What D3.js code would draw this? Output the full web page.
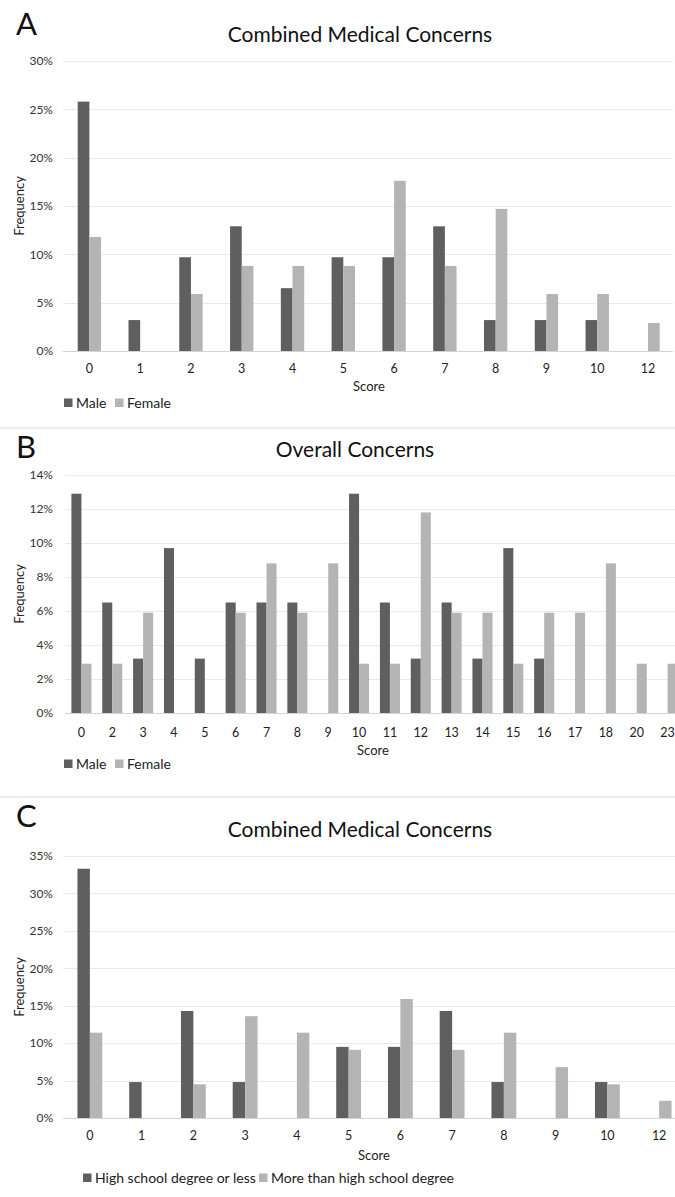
<!DOCTYPE html>
<html>
<head>
<meta charset="utf-8">
<script src="https://cdn.jsdelivr.net/npm/d3@7"></script>
<style>
  html, body { margin: 0; padding: 0; background: #fff; }
  svg { display: block; font-family: Lato, "Open Sans", sans-serif; }
</style>
</head>
<body>
<svg id="chart" width="675" height="1197"></svg>
<script>
// ---------- Data ----------
const scoresA = ["0","1","2","3","4","5","6","7","8","9","10","12"];
const maleA   = [25.8, 3.2, 9.7, 12.9, 6.5, 9.7, 9.7, 12.9, 3.2, 3.2, 3.2, 0];
const femaleA = [11.8, 0, 5.9, 8.8, 8.8, 8.8, 17.6, 8.8, 14.7, 5.9, 5.9, 2.9];
const ticksA  = [0, 5, 10, 15, 20, 25, 30];

const scoresB = ["0","2","3","4","5","6","7","8","9","10","11","12","13","14","15","16","17","18","20","23"];
const maleB   = [12.9, 6.5, 3.2, 9.7, 3.2, 6.5, 6.5, 6.5, 0, 12.9, 6.5, 3.2, 6.5, 3.2, 9.7, 3.2, 0, 0, 0, 0];
const femaleB = [2.9, 2.9, 5.9, 0, 0, 5.9, 8.8, 5.9, 8.8, 2.9, 2.9, 11.8, 5.9, 5.9, 2.9, 5.9, 5.9, 8.8, 2.9, 2.9];
const ticksB  = [0, 2, 4, 6, 8, 10, 12, 14];

const scoresC = ["0","1","2","3","4","5","6","7","8","9","10","12"];
const hsC     = [33.3, 4.8, 14.3, 4.8, 0, 9.5, 9.5, 14.3, 4.8, 0, 4.8, 0];
const moreC   = [11.4, 0, 4.5, 13.6, 11.4, 9.1, 15.9, 9.1, 11.4, 6.8, 4.5, 2.3];
const ticksC  = [0, 5, 10, 15, 20, 25, 30, 35];

const seriesNamesAB = ["Male", "Female"];
const seriesNamesC  = ["High school degree or less", "More than high school degree"];
const colors = ["#5f5f5f", "#b4b4b4"];

// ---------- Drawing ----------
const svg = d3.select("#chart");

function panel(cfg) {
  const g = svg.append("g");
  const x = d3.scaleBand().domain(cfg.cats).range(cfg.xr).paddingInner(cfg.pad).paddingOuter(cfg.pad / 2);
  const sub = d3.scaleBand().domain([0, 1]).range([0, x.bandwidth()]);
  const y = d3.scaleLinear().domain([0, cfg.ticks[cfg.ticks.length - 1]]).range(cfg.yr);

  // panel letter
  g.append("text").attr("x", 16).attr("y", cfg.letterY).attr("font-size", 31)
    .attr("font-family", "Lato, sans-serif").attr("fill", "#111").text(cfg.letter);
  // title
  g.append("text").attr("x", cfg.titleX).attr("y", cfg.titleY).attr("text-anchor", "middle")
    .attr("font-size", 21).attr("fill", "#111").text(cfg.title);

  // gridlines
  g.selectAll("line.grid").data(cfg.ticks).join("line")
    .attr("x1", cfg.gridX[0]).attr("x2", cfg.gridX[1])
    .attr("y1", d => Math.round(y(d)) + 0.5).attr("y2", d => Math.round(y(d)) + 0.5)
    .attr("stroke", d => d === 0 ? "#d4d4d4" : "#e9e9e9").attr("stroke-width", 1);

  // y axis labels via d3 axis
  const yAxis = d3.axisLeft(y).tickValues(cfg.ticks).tickFormat(d => d + "%").tickSize(0).tickPadding(0);
  const ya = g.append("g").attr("transform", `translate(53,0)`).call(yAxis);
  ya.select(".domain").remove();
  ya.selectAll("text").attr("font-size", 12).attr("fill", "#333").attr("font-family", "Lato, sans-serif");

  // bars
  const sets = [cfg.s0, cfg.s1];
  sets.forEach((vals, si) => {
    g.selectAll(null).data(vals.map((v, i) => ({cat: cfg.cats[i], v}))).join("rect")
      .filter(d => d.v > 0)
      .attr("x", d => x(d.cat) + sub(si))
      .attr("width", sub.bandwidth())
      .attr("y", d => y(d.v))
      .attr("height", d => y(0) - y(d.v))
      .attr("fill", colors[si]);
  });

  // x axis labels
  const xAxis = d3.axisBottom(x).tickSize(0).tickPadding(0);
  const xa = g.append("g").attr("transform", `translate(0,${cfg.xLabelY})`).call(xAxis);
  xa.select(".domain").remove();
  xa.selectAll("text").attr("font-size", 12.5).attr("fill", "#222").attr("dy", "0").attr("font-family", "Lato, sans-serif");

  // axis titles
  g.append("text").attr("x", cfg.scoreX).attr("y", cfg.scoreY).attr("text-anchor", "middle")
    .attr("font-size", 13).attr("fill", "#222").text("Score");
  g.append("text").attr("transform", `translate(24,${cfg.freqY}) rotate(-90)`).attr("text-anchor", "middle")
    .attr("font-size", 13).attr("fill", "#222").text("Frequency");

  // legend
  cfg.names.forEach((n, i) => {
    g.append("rect").attr("x", cfg.legX[i]).attr("y", cfg.legY - 4.5).attr("width", 8.5).attr("height", 8.5).attr("fill", colors[i]);
    g.append("text").attr("x", cfg.legX[i] + 12).attr("y", cfg.legY + 5).attr("font-size", 14)
      .attr("fill", "#222").text(n);
  });
}

panel({letter: "A", letterY: 35, title: "Combined Medical Concerns", titleX: 360, titleY: 42,
  cats: scoresA, s0: maleA, s1: femaleA, ticks: ticksA, xr: [64, 673.4], pad: 0.54, yr: [351, 61],
  gridX: [63, 673], xLabelY: 373, scoreX: 369, scoreY: 391, freqY: 206, names: seriesNamesAB,
  legX: [64, 115], legY: 403});

panel({letter: "B", letterY: 458, title: "Overall Concerns", titleX: 355, titleY: 457,
  cats: scoresB, s0: maleB, s1: femaleB, ticks: ticksB, xr: [66, 683], pad: 0.35, yr: [713, 475],
  gridX: [65, 675], xLabelY: 737, scoreX: 373, scoreY: 755, freqY: 594, names: seriesNamesAB,
  legX: [64, 115], legY: 764});

panel({letter: "C", letterY: 827, title: "Combined Medical Concerns", titleX: 360, titleY: 837,
  cats: scoresC, s0: hsC, s1: moreC, ticks: ticksC, xr: [64, 685], pad: 0.52, yr: [1118, 856],
  gridX: [63, 675], xLabelY: 1140, scoreX: 374, scoreY: 1160, freqY: 987, names: seriesNamesC,
  legX: [83, 259], legY: 1178});

// separators between panels
[428, 797].forEach(yy => {
  svg.append("line").attr("x1", 0).attr("x2", 675).attr("y1", yy).attr("y2", yy)
    .attr("stroke", "#e6e6e6").attr("stroke-width", 1.5);
});
</script>
</body>
</html>
